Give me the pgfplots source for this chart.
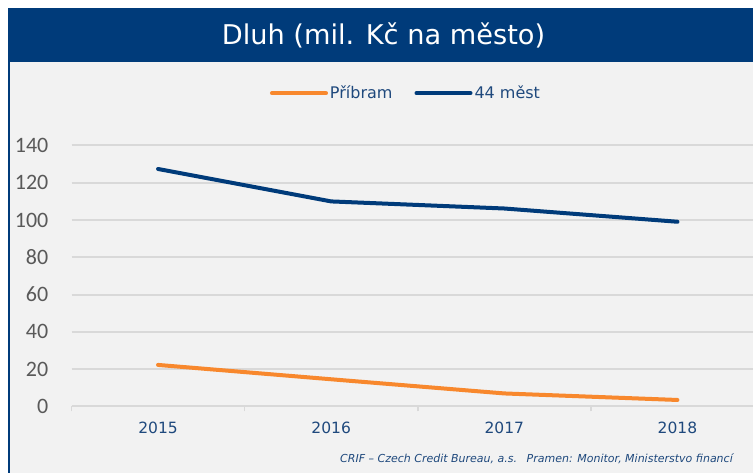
\documentclass[border=0pt]{standalone}
\usepackage{pgfplots}
\pgfplotsset{compat=1.18}
\usepackage{fontspec}
\setmainfont{DejaVu Sans}
\newfontfamily\calibri{Carlito}
\definecolor{bggray}{RGB}{242,242,242}
\definecolor{hdr}{RGB}{0,59,122}
\definecolor{gridc}{RGB}{217,217,217}
\definecolor{txtblue}{RGB}{31,73,125}
\definecolor{ygray}{RGB}{89,89,89}
\definecolor{lblue}{RGB}{0,59,122}
\definecolor{lorange}{RGB}{248,136,45}
\begin{document}
\begin{tikzpicture}[x=1bp,y=1bp]
\useasboundingbox (0,0) rectangle (753,473);
\fill[white] (0,0) rectangle (753,473);
\fill[bggray] (8,0) rectangle (760,411);
\fill[hdr] (8,411) rectangle (760,465);
\draw[hdr, line width=1.5bp] (8.75,0) -- (8.75,411);
\node[white, inner sep=0, font=\fontsize{27.2bp}{30bp}\selectfont] at (383.5,438) {Dluh (mil. Kč na město)};
\node[txtblue, anchor=base west, inner sep=0, font=\fontsize{11bp}{13bp}\selectfont\itshape] at (340,10) {CRIF – Czech Credit Bureau, a.s.};
\node[txtblue, anchor=base east, inner sep=0, font=\fontsize{11bp}{13bp}\selectfont\itshape] at (733,10) {Pramen: Monitor, Ministerstvo financí};
\begin{axis}[
  at={(71.5bp,66.5bp)}, anchor=south west,
  scale only axis, width=692.5bp, height=261bp,
  xmin=-0.5, xmax=3.5, ymin=0, ymax=140,
  xtick={0,1,2,3}, xticklabels={2015,2016,2017,2018},
  minor xtick={-0.5,0.5,1.5,2.5,3.5},
  ytick={0,20,...,140},
  xtick pos=lower, ytick pos=left,
  major tick length=0pt, minor tick length=5bp,
  tick align=outside,
  minor tick style={gridc, line width=1.5bp},
  ymajorgrids, grid style={gridc, line width=2bp},
  axis line style={draw=none},
  /pgf/number format/assume math mode=true,
  yticklabel style={font=\calibri\fontsize{22bp}{24bp}\selectfont, text=ygray, anchor=east, inner sep=0, xshift=-23bp},
  xticklabel style={font=\fontsize{15.5bp}{18bp}\selectfont, text=txtblue, anchor=center, inner sep=0, yshift=-21bp},
  legend style={at={(axis description cs:0.483,1.2)}, anchor=center, draw=none, fill=none,
    font=\fontsize{16bp}{19bp}\selectfont, text=txtblue, legend columns=2,
    /tikz/every even column/.append style={column sep=20bp},
    nodes={inner sep=2bp}},
  legend image code/.code={\draw[#1, line cap=round] (0bp,0bp) -- (54bp,0bp);},
]
\addplot[lorange, line width=4bp, line cap=round, line join=round] coordinates {(0,22.3) (1,14.6) (2,7.0) (3,3.5)};
\addlegendentry{Příbram}
\addplot[lblue, line width=4bp, line cap=round, line join=round] coordinates {(0,127.4) (1,110.0) (2,106.2) (3,99.1)};
\addlegendentry{44 měst}
\end{axis}
\end{tikzpicture}
\end{document}
